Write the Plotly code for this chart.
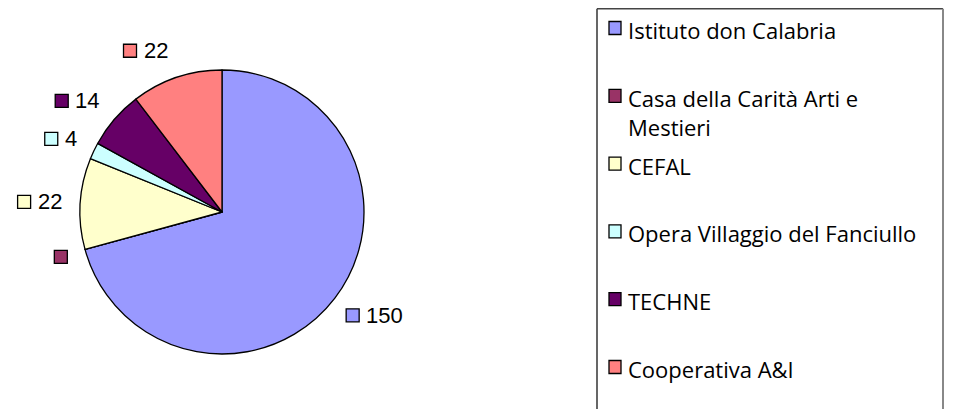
import math
import plotly.graph_objects as go

# ---- data ----
labels = ["Istituto don Calabria", "Casa della Carità Arti e<br>Mestieri", "CEFAL",
          "Opera Villaggio del Fanciullo", "TECHNE", "Cooperativa A&I"]
values = [150, 0, 22, 4, 14, 22]
value_text = ["150", "", "22", "4", "14", "22"]
colors = ["#9999FF", "#993366", "#FFFFCC", "#CCFFFF", "#660066", "#FF8080"]

# page has an 8px body margin; the figure is sized to fit the window
OFF = 8
W, H = 953 - OFF, 409 - OFF
CX, CY, R = 222, 212, 142  # pie centre / radius in window pixels


def px(x):
    return (x - OFF) / W


def py(y):
    return 1 - (y - OFF) / H


fig = go.Figure(go.Pie(
    labels=labels, values=values, sort=False, direction="clockwise", rotation=0,
    marker=dict(colors=colors, line=dict(color="black", width=1.3)),
    textinfo="none", hoverinfo="label+value", showlegend=False,
    domain=dict(x=[px(CX - R), px(CX + R)], y=[py(CY + R), py(CY - R)]),
))

shapes = []
annotations = []

# ---- data labels around the pie ----
total = sum(values)
cum = 0
SQ = 13
FS = 22
for v, t, c in zip(values, value_text, colors):
    mid = (cum + v / 2) / total * 2 * math.pi
    cum += v
    dx, dy = math.sin(mid), -math.cos(mid)
    ax, ay = CX + dx * R * 1.1, CY + dy * R * 1.1
    cy = ay + dy * 14
    tw = 0.556 * FS * len(t)
    boxw = SQ + (7 + tw if t else 0)
    left = ax if dx >= 0 else ax - boxw
    left = left - (4 if dx < 0 else 0)
    shapes.append(dict(type="rect", xref="paper", yref="paper",
                       x0=px(left), x1=px(left + SQ), y0=py(cy + SQ / 2), y1=py(cy - SQ / 2),
                       fillcolor=c, line=dict(color="black", width=1.3)))
    if t:
        annotations.append(dict(xref="paper", yref="paper", x=px(left + SQ + 5), y=py(cy),
                                xanchor="left", yanchor="middle", text=t, showarrow=False,
                                font=dict(family="Liberation Sans, Arial", size=FS, color="black")))

# ---- manual legend ----
LX0, LX1, LY0 = 597, 943, 8.7
BOTTOM = 420
shapes.append(dict(type="line", xref="paper", yref="paper", x0=px(LX0), x1=px(LX0),
                   y0=py(LY0), y1=py(BOTTOM), line=dict(color="black", width=1.2)))
shapes.append(dict(type="line", xref="paper", yref="paper", x0=px(LX0), x1=px(LX1),
                   y0=py(LY0), y1=py(LY0), line=dict(color="#444444", width=1.5)))
shapes.append(dict(type="line", xref="paper", yref="paper", x0=px(LX1), x1=px(LX1),
                   y0=py(LY0), y1=py(BOTTOM), line=dict(color="#888888", width=2)))
shapes.append(dict(type="rect", xref="paper", yref="paper", x0=px(950), x1=px(953),
                   y0=0, y1=1, fillcolor="#1c1c2c", line=dict(width=0)))

Y0, STEP = 28, 67.8
for i, (lab, c) in enumerate(zip(labels, colors)):
    yc = Y0 + i * STEP
    shapes.append(dict(type="rect", xref="paper", yref="paper",
                       x0=px(609), x1=px(621), y0=py(yc + 6.5), y1=py(yc - 6.5),
                       fillcolor=c, line=dict(color="black", width=1.3)))
    for j, line in enumerate(lab.split("<br>")):
        annotations.append(dict(xref="paper", yref="paper", x=px(626), y=py(yc + 2 + j * 29),
                                xanchor="left", yanchor="middle", text=line, showarrow=False,
                                font=dict(family="Open Sans", size=22, color="black")))

fig.update_layout(width=W, height=H, margin=dict(l=0, r=0, t=0, b=0),
                  paper_bgcolor="white", plot_bgcolor="white",
                  shapes=shapes, annotations=annotations)
fig.write_html("out.html")
